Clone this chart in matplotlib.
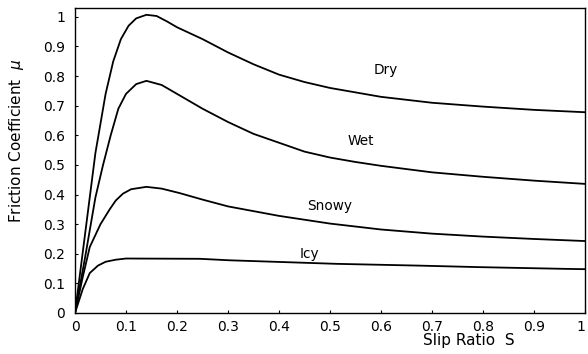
import matplotlib
matplotlib.use("Agg")
import matplotlib.pyplot as plt

plt.rcParams['font.family'] = ['DejaVu Sans']

dry_s = [0, 0.02, 0.04, 0.06, 0.075, 0.09, 0.105, 0.12, 0.14, 0.16, 0.18, 0.20, 0.25, 0.30, 0.35, 0.40, 0.45, 0.50, 0.55, 0.60, 0.70, 0.80, 0.90, 1.0]
dry_mu = [0, 0.27, 0.54, 0.74, 0.85, 0.925, 0.97, 0.995, 1.007, 1.003, 0.985, 0.965, 0.925, 0.88, 0.84, 0.805, 0.78, 0.76, 0.745, 0.73, 0.71, 0.697, 0.686, 0.678]

wet_s = [0, 0.02, 0.04, 0.055, 0.07, 0.085, 0.10, 0.12, 0.14, 0.17, 0.20, 0.25, 0.30, 0.35, 0.40, 0.45, 0.50, 0.55, 0.60, 0.70, 0.80, 0.90, 1.0]
wet_mu = [0, 0.19, 0.39, 0.50, 0.60, 0.69, 0.74, 0.773, 0.784, 0.77, 0.74, 0.69, 0.645, 0.605, 0.575, 0.545, 0.525, 0.51, 0.497, 0.475, 0.46, 0.447, 0.436]

snowy_s = [0, 0.015, 0.029, 0.05, 0.068, 0.08, 0.094, 0.11, 0.14, 0.17, 0.205, 0.25, 0.30, 0.40, 0.50, 0.60, 0.70, 0.80, 0.90, 1.0]
snowy_mu = [0, 0.12, 0.223, 0.30, 0.35, 0.38, 0.403, 0.418, 0.426, 0.42, 0.405, 0.383, 0.36, 0.328, 0.302, 0.282, 0.268, 0.258, 0.25, 0.243]

icy_s = [0, 0.015, 0.029, 0.045, 0.06, 0.08, 0.10, 0.245, 0.303, 0.513, 0.675, 0.79, 0.963, 1.0]
icy_mu = [0, 0.08, 0.135, 0.16, 0.173, 0.18, 0.184, 0.183, 0.178, 0.166, 0.16, 0.155, 0.149, 0.148]

labels = ["Dry", "Wet", "Snowy", "Icy"]
label_pos = [(0.61, 0.82), (0.56, 0.58), (0.50, 0.36), (0.46, 0.20)]

tick_vals = [0, 0.1, 0.2, 0.3, 0.4, 0.5, 0.6, 0.7, 0.8, 0.9, 1]
tick_text = ["0", "0.1", "0.2", "0.3", "0.4", "0.5", "0.6", "0.7", "0.8", "0.9", "1"]

fig = plt.figure(figsize=(5.88, 3.54), dpi=100)
ax = fig.add_axes([75/588, 41/354, 510/588, 305/354])

for s, mu in [(dry_s, dry_mu), (wet_s, wet_mu), (snowy_s, snowy_mu), (icy_s, icy_mu)]:
    ax.plot(s, mu, color='black', lw=1.3)

for lab, (x, y) in zip(labels, label_pos):
    ax.text(x, y, lab, fontsize=9.8, ha='center', va='center')

ax.set_xlim(0, 1)
ax.set_ylim(0, 1.03)
ax.set_xticks(tick_vals)
ax.set_xticklabels(tick_text)
ax.set_yticks(tick_vals)
ax.set_yticklabels(tick_text)
ax.tick_params(direction='in', length=2, labelsize=10, pad=5)
ax.tick_params(axis='y', pad=7)
ax.get_xticklabels()[-1].set_horizontalalignment('right')
for sp in ax.spines.values():
    sp.set_linewidth(1.0)

fig.text(17/588, 1 - 141/354, r"Friction Coefficient  $\mu$", rotation=90, fontsize=11,
         ha='center', va='center')
fig.text(469/588, 1 - 341/354, "Slip Ratio  S", fontsize=11, ha='center', va='center')

fig.savefig("out.png", dpi=100)
